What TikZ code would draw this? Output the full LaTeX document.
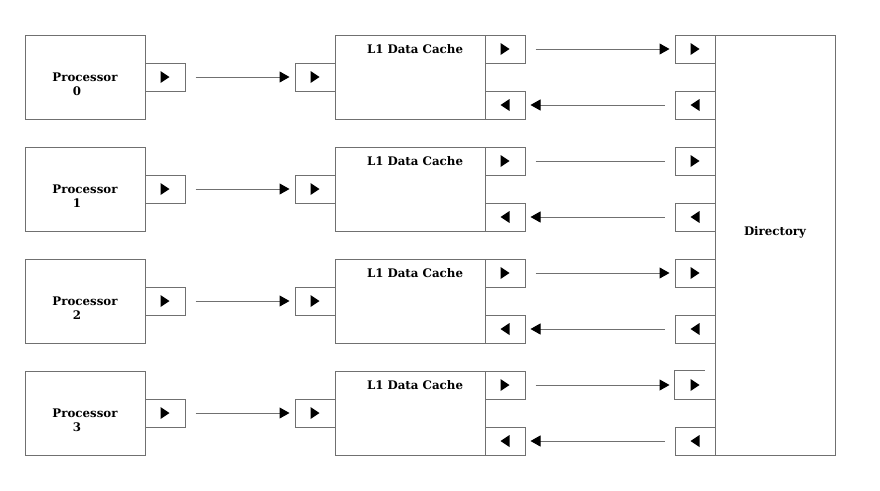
\documentclass[tikz,border=0pt]{standalone}
\usepackage{fontspec}
\setmainfont{DejaVu Serif}
\usetikzlibrary{arrows.meta}
\definecolor{edge}{RGB}{112,112,112}
\tikzset{
  every node/.style={font=\bfseries\fontsize{11.8}{13}\selectfont},
  box/.style={draw=edge, line width=1pt, inner sep=0pt},
  port/.style={box, minimum width=40pt, minimum height=28pt},
  portR/.style={port, path picture={\fill ([xshift=-4.5pt,yshift=-6pt]path picture bounding box.center) -- ++(0,12pt) -- ++(9pt,-6pt) -- cycle;}},
  portL/.style={port, path picture={\fill ([xshift=4.5pt,yshift=-6pt]path picture bounding box.center) -- ++(0,12pt) -- ++(-9pt,-6pt) -- cycle;}},
  arr/.style={draw=edge, line width=1pt, -{Triangle[length=10pt,width=11pt,black]}},
  plain/.style={draw=edge, line width=1pt},
}
\begin{document}
\begin{tikzpicture}[x=1pt,y=1pt]
\useasboundingbox (0,0) rectangle (880,-490);
\node[box, minimum width=120pt, minimum height=420pt] (dir) at (775,-245) {};
\node (dirlabel) at (775,-232) {Directory};
\foreach \i in {0,...,3}{
  \pgfmathsetmacro\yy{-77-112*\i}
  \node[box, minimum width=120pt, minimum height=84pt] (p\i) at (85,\yy) {};
  \node (pl\i) at (85,\yy) {Processor};
  \node (pn\i) at (77,\yy-14.5) {\i};
  \node[portR] (po\i) at (165,\yy) {};
  \node[portR] (ci\i) at (315,\yy) {};
  \node[box, minimum width=150pt, minimum height=84pt] (c\i) at (410,\yy) {};
  \node (cl\i) at (415,\yy+28) {L1 Data Cache};
  \node[portR] (ct\i) at (505,\yy+28) {};
  \node[portL] (cb\i) at (505,\yy-28) {};
  \node[portL] (db\i) at (695,\yy-28) {};
  \draw[arr] ([xshift=10pt]po\i.east) -- ([xshift=-5pt]ci\i.west);
  \draw[arr] ([xshift=-10pt]db\i.west) -- ([xshift=5pt]cb\i.east);
}
\foreach \i in {0,1,2}{
  \pgfmathsetmacro\yy{-77-112*\i}
  \node[portR] (dt\i) at (695,\yy+28) {};
}
\node[portR, draw=none] (dt3) at (695,-77-336+28) {};
\draw[plain] ([xshift=30pt]dt3.north west) -- (dt3.north west) -- (dt3.south west) -- (dt3.south east);
\draw[arr] ([xshift=10pt]ct0.east) -- ([xshift=-5pt]dt0.west);
\draw[plain] ([xshift=10pt]ct1.east) -- ([xshift=-10pt]dt1.west);
\draw[arr] ([xshift=10pt]ct2.east) -- ([xshift=-5pt]dt2.west);
\draw[arr] ([xshift=10pt]ct3.east) -- ([xshift=-5pt]dt3.west);
\end{tikzpicture}
\end{document}
